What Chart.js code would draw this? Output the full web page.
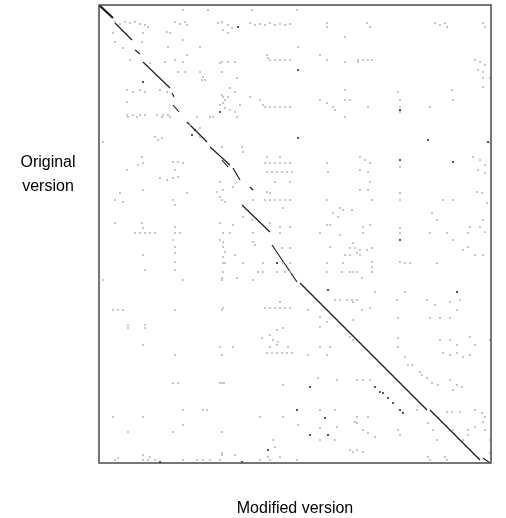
<!DOCTYPE html>
<html>
<head>
<meta charset="utf-8">
<script src="https://cdn.jsdelivr.net/npm/chart.js@4"></script>
<style>
  body { margin: 0; background: #fff; }
  canvas { display: block; }
</style>
</head>
<body>
<canvas id="dotplot" width="506" height="518"></canvas>
<script>
// sequence lengths (modified = x, original = y)
const modifiedLength = 392;
const originalLength = 458;

// main diagonal runs: [xStart, yStart, xEnd, yEnd]
const matchRuns = [
  [0, 0, 14, 13],
  [16, 18, 33, 35],
  [36, 45, 41, 49],
  [44, 57, 71, 83],
  [73, 88, 75, 92],
  [74, 100, 80, 107],
  [88, 117, 108, 137],
  [111, 142, 131, 160],
  [123, 155, 129, 162],
  [134, 163, 141, 175],
  [151, 182, 154, 185],
  [143, 200, 171, 227],
  [173, 240, 198, 277],
  [201, 278, 328, 405],
  [331, 405, 381, 455],
  [384, 453, 391, 458]
];

// strong single hits
const strongDots = [
  [139,22],[199,65],[44,77],[121,107],[199,133],[301,105],[329,135],[389,137],
  [301,155],[354,157],[229,285],[358,287],[301,235],[211,382],[198,405],[226,413],
  [211,430],[229,430],[61,457],[143,457],[276,382],[281,387],[284,388],[289,393],
  [294,398],[301,405],[304,408],[96,125],[93,130],[178,258],[169,445]
];

// weak hits (repeats etc)
const weakDotsTop = [
  [84,5],[109,5],[16,17],[21,19],[26,17],[31,18],[36,17],[41,19],[46,20],[49,22],
  [76,17],[81,19],[86,17],[88,20],[119,18],[124,25],[14,28],[16,37],[24,43],[43,37],
  [44,28],[68,27],[71,28],[84,35],[101,42],[69,42],[88,50],[66,57],[76,55],[84,57],
  [31,55],[51,58],[79,67],[86,67],[101,67],[104,72],[106,75],[103,75],[121,58],[123,67],
  [28,85],[34,87],[41,85],[46,87],[61,85],[68,87],[124,92],[124,98],[126,103],[29,112],
  [38,112],[63,112],[71,112],[98,112],[114,112],[28,97],
  [153,5],[198,5],[123,17],[129,20],[133,23],[151,18],[156,20],[161,19],[166,20],[171,18],
  [176,20],[181,19],[186,20],[191,19],[228,18],[228,22],[246,32],[129,28],[199,42],[168,50],
  [169,53],[171,55],[176,55],[181,55],[186,55],[191,55],[221,50],[228,55],[123,57],[129,57],
  [136,57],[246,57],[259,57],[138,73],[131,83],[136,87],[123,90],[129,92],[126,95],[151,92],
  [121,100],[131,105],[136,107],[141,100],[161,95],[164,100],[166,102],[171,102],[176,102],
  [181,102],[186,102],[191,102],[221,95],[228,98],[234,102],[236,105],[246,85],[246,95],
  [138,112],[246,112],
  [268,18],[271,22],[336,18],[341,20],[346,18],[348,22],[384,18],[386,22],[259,55],[264,55],
  [269,55],[273,55],[376,55],[381,57],[386,60],[379,65],[384,67],[384,73],[391,73],[384,82],
  [299,87],[301,95],[301,102],[353,85],[354,95],[251,95],[269,102],[331,102],[301,107]
];

const weakDotsMiddle = [
  [28,110],[34,110],[41,110],[46,110],[58,110],[64,110],[69,110],[111,112],[91,120],[101,123],
  [101,132],[4,137],[56,132],[59,135],[63,133],[43,152],[44,158],[39,160],[28,165],[74,157],
  [79,157],[84,158],[76,165],[61,173],[68,175],[74,173],[79,172],[21,188],[16,195],[24,197],
  [44,185],[74,195],[76,200],[88,188],[118,187],[121,192],[126,197],[16,218],[43,218],[44,223],
  [76,222],[121,218],
  [123,142],[143,142],[144,147],[168,152],[181,152],[166,158],[171,158],[176,158],[181,158],
  [186,158],[191,158],[168,167],[173,167],[178,167],[183,167],[188,167],[193,167],[228,158],
  [229,167],[121,177],[124,185],[134,182],[168,187],[171,188],[166,195],[171,195],[176,195],
  [181,195],[186,195],[191,195],[176,177],[191,177],[123,195],[228,195],[154,195],[184,203],
  [241,203],[234,208],[239,212],[244,205],[144,212],[153,215],[134,220],[171,218],[181,222],
  [191,222],[228,220],[231,220],
  [391,138],[261,152],[266,155],[271,158],[261,165],[269,167],[301,162],[374,152],[381,155],
  [386,160],[379,165],[386,168],[261,185],[269,185],[273,195],[271,177],[301,188],[301,195],
  [344,195],[354,195],[378,187],[383,188],[388,198],[253,205],[333,208],[338,215],[384,215],
  [264,222],[271,220],[301,223],[371,222],[381,222],
  [36,228],[41,228],[46,228],[51,228],[56,228],[76,228],[81,228],[74,235],[76,242],[76,248],
  [76,257],[76,265],[121,235],[124,242],[124,252],[124,258],[124,267],[44,250],[46,265],[4,275],
  [84,275],[123,275],[14,305],[19,305],[24,305],[76,305],[123,305],[29,320],[46,320],[29,323],
  [46,323],[44,340]
];

const weakDotsBottom = [
  [124,228],[131,228],[154,228],[181,228],[221,228],[241,230],[124,237],[154,237],[156,240],
  [136,250],[126,247],[183,243],[191,243],[231,242],[246,250],[251,250],[258,248],[126,258],
  [144,258],[164,258],[184,258],[191,258],[159,267],[164,267],[178,267],[186,267],[191,267],
  [228,258],[228,267],[244,258],[243,267],[251,267],[258,267],[123,273],[138,273],[154,275],
  [236,295],[241,295],[248,295],[253,295],[258,295],[124,303],[166,303],[171,303],[176,303],
  [181,303],[186,303],[191,303],[209,305],[181,297],[221,312],[221,322],[228,317],[184,323],
  [178,325],[171,330],[163,333],[174,335],[179,337],[178,340],[121,342],[134,342],[171,342],
  [189,342],[221,342],[231,342],[251,332],[254,335],
  [264,228],[301,228],[331,228],[348,228],[369,228],[386,227],[254,238],[251,243],[256,243],
  [261,245],[268,245],[273,243],[261,250],[364,245],[369,242],[376,250],[384,250],[354,235],
  [301,257],[306,258],[311,258],[338,258],[273,257],[273,262],[273,267],[254,267],[263,273],
  [276,287],[306,287],[254,297],[298,295],[328,295],[336,300],[351,297],[358,305],[361,295],
  [263,305],[271,303],[299,313],[331,313],[341,313],[351,313],[254,315],[341,335],[351,335],
  [371,332],[376,340],[391,335],[299,333],[299,342],[358,340],
  [76,350],[123,350],[74,378],[79,378],[121,378],[125,378],[84,405],[104,405],[108,405],
  [14,412],[44,412],[84,420],[29,427],[74,427],[123,427],[44,450],[51,452],[16,455],[19,453],
  [44,455],[49,455],[56,455],[84,455],[98,455],[104,455],[111,455],[121,455],[123,448],
  [168,348],[173,348],[178,348],[183,348],[188,348],[193,348],[209,350],[228,350],[123,378],
  [184,380],[219,373],[238,375],[221,405],[236,405],[161,412],[184,412],[199,420],[221,423],
  [238,422],[256,417],[236,435],[221,435],[174,435],[176,442],[254,447],[123,450],[136,450],
  [169,452],[181,452],[198,455],[161,455],[171,455],
  [344,348],[351,350],[358,348],[364,352],[371,350],[306,352],[309,360],[313,360],[321,367],
  [323,370],[328,373],[333,378],[339,380],[258,375],[264,375],[271,375],[351,375],[358,380],
  [363,382],[354,385],[318,405],[348,407],[353,407],[361,407],[376,405],[383,408],[386,412],
  [384,417],[258,412],[269,412],[258,418],[264,425],[269,428],[276,432],[299,425],[301,430],
  [329,418],[334,425],[354,425],[369,425],[369,430],[364,435],[376,422],[386,425],[338,435],
  [251,445],[258,445],[264,447],[329,452],[346,452],[331,455],[348,455],[391,435],[391,448]
];

const xTitle = 'Modified version';
const yTitle = ['Original', 'version'];

function toPoints(list) {
  return list.map(p => ({ x: p[0], y: p[1] }));
}

const datasets = [];

const allWeak = weakDotsTop.concat(weakDotsMiddle, weakDotsBottom);
datasets.push({
  data: toPoints(allWeak),
  pointRadius: 1,
  pointBackgroundColor: '#b4b4b4',
  pointBorderWidth: 0
});

datasets.push({
  data: toPoints(strongDots),
  pointRadius: 1,
  pointBackgroundColor: '#1a1a1a',
  pointBorderWidth: 0
});

matchRuns.forEach((run, i) => {
  datasets.push({
    data: [{ x: run[0], y: run[1] }, { x: run[2], y: run[3] }],
    showLine: true,
    borderColor: '#1c1c1c',
    borderWidth: i === 0 ? 2.2 : 1.15,
    pointRadius: 0
  });
});

// frame and the axis titles
const framePlugin = {
  id: 'frame',
  afterDraw(chart) {
    const ctx = chart.ctx;
    const a = chart.chartArea;
    ctx.save();
    ctx.strokeStyle = '#4a4a4a';
    ctx.lineWidth = 1.5;
    ctx.strokeRect(a.left, a.top, a.right - a.left, a.bottom - a.top);
    ctx.fillStyle = '#000';
    ctx.font = '16px "Liberation Sans", Arial, sans-serif';
    ctx.textAlign = 'center';
    ctx.textBaseline = 'middle';
    ctx.fillText(xTitle, (a.left + a.right) / 2, a.bottom + 46);
    ctx.fillText(yTitle[0], 48, 163);
    ctx.fillText(yTitle[1], 48, 187);
    ctx.restore();
  }
};

new Chart(document.getElementById('dotplot').getContext('2d'), {
  type: 'scatter',
  data: { datasets: datasets },
  options: {
    responsive: false,
    animation: false,
    layout: { padding: { left: 99, top: 5, right: 15, bottom: 55 } },
    plugins: {
      legend: { display: false },
      tooltip: { enabled: false }
    },
    scales: {
      x: { display: false, min: 0, max: modifiedLength },
      y: { display: false, min: 0, max: originalLength, reverse: true }
    }
  },
  plugins: [framePlugin]
});
</script>
</body>
</html>
